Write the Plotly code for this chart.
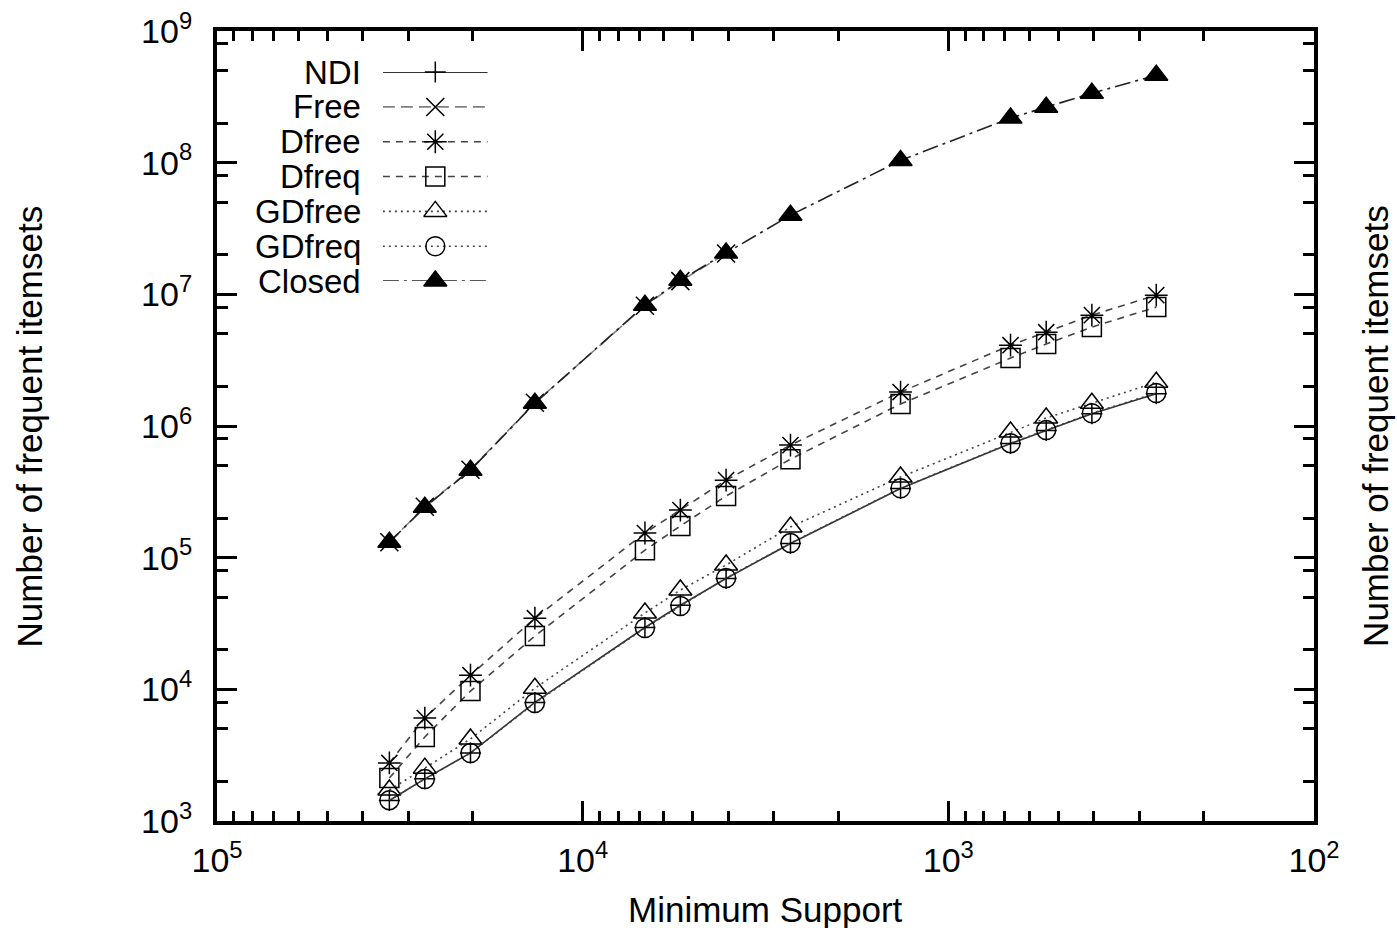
import plotly.graph_objects as go

# ---------------- data ----------------
support = [33778, 27023, 20267, 13511, 6756, 5405, 4053, 2702, 1351, 676, 540, 405, 270]

ndi = [1430, 2090, 3290, 7950, 29500, 43500, 69500, 128000, 335000, 735000, 925000, 1240000, 1760000]
free_support = [33778, 27023, 20267, 13511, 6756, 5405, 4053]
free = [131000, 244000, 466000, 1500000, 8200000, 12600000, 20400000]
dfree = [2760, 6050, 12800, 34700, 154000, 230000, 388000, 716000, 1810000, 4110000, 5160000, 6950000, 9860000]
dfreq = [2120, 4350, 9700, 25400, 114000, 174000, 294000, 560000, 1470000, 3280000, 4190000, 5640000, 8000000]
gdfree = [1720, 2520, 4200, 10200, 38000, 56800, 88000, 171000, 410000, 900000, 1150000, 1490000, 2150000]
gdfreq = [1440, 2080, 3280, 7870, 29200, 42900, 70000, 129000, 337000, 741000, 931000, 1250000, 1780000]
closed = [131000, 242000, 462000, 1490000, 8280000, 12800000, 20600000, 39900000, 104000000,
          218000000, 264000000, 337000000, 461000000]

series_names = ["NDI", "Free", "Dfree", "Dfreq", "GDfree", "GDfreq", "Closed"]

x_tick_vals = [1e5, 1e4, 1e3, 1e2]
x_tick_text = ["10<sup>5</sup>", "10<sup>4</sup>", "10<sup>3</sup>", "10<sup>2</sup>"]
y_tick_vals = [1e3, 1e4, 1e5, 1e6, 1e7, 1e8, 1e9]
y_tick_text = ["10<sup>3</sup>", "10<sup>4</sup>", "10<sup>5</sup>", "10<sup>6</sup>",
               "10<sup>7</sup>", "10<sup>8</sup>", "10<sup>9</sup>"]

# ---------------- styles ----------------
FONT = "Liberation Sans, Arial, sans-serif"
styles = {
    "NDI":    dict(color="#333333", dash="solid",            sym="cross-thin-open",    size=15),
    "Free":   dict(color="#808080", dash="12px,6px",         sym="x-thin-open",        size=18),
    "Dfree":  dict(color="#444444", dash="7px,6px",          sym="asterisk-open",      size=19),
    "Dfreq":  dict(color="#444444", dash="7px,6px",          sym="square-open",        size=19),
    "GDfree": dict(color="#444444", dash="2px,4px",          sym="triangle-up-open",   size=20),
    "GDfreq": dict(color="#444444", dash="2px,4px",          sym="circle-open",        size=19),
    "Closed": dict(color="#222222", dash="16px,5px,3px,5px", sym="triangle-up",        size=20),
}

data_map = {
    "NDI": (support, ndi),
    "Free": (free_support, free),
    "Dfree": (support, dfree),
    "Dfreq": (support, dfreq),
    "GDfree": (support, gdfree),
    "GDfreq": (support, gdfreq),
    "Closed": (support, closed),
}

fig = go.Figure()

# draw order: Free beneath Closed
draw_order = ["Free", "NDI", "Dfree", "Dfreq", "GDfree", "GDfreq", "Closed"]
for name in draw_order:
    xs, ys = data_map[name]
    st = styles[name]
    fig.add_trace(go.Scatter(
        x=xs, y=ys, mode="lines+markers", name=name, showlegend=False,
        line=dict(color=st["color"], width=1.6, dash=st["dash"]),
        marker=dict(symbol=st["sym"], size=st["size"], color="black",
                    line=dict(color="black", width=1.5)),
        cliponaxis=False,
    ))

# ---------------- custom legend (text left of sample, like the original) ----------------
for i, name in enumerate(series_names):
    st = styles[name]
    fig.add_trace(go.Scatter(
        x=[0, 1], y=[i, i], mode="lines", xaxis="x2", yaxis="y2", showlegend=False,
        line=dict(color=st["color"], width=1.6, dash=st["dash"]), cliponaxis=False,
        hoverinfo="skip",
    ))
    fig.add_trace(go.Scatter(
        x=[0.5], y=[i], mode="markers", xaxis="x2", yaxis="y2", showlegend=False,
        marker=dict(symbol=st["sym"], size=st["size"], color="black",
                    line=dict(color="black", width=1.5)), cliponaxis=False,
        hoverinfo="skip",
    ))
    fig.add_annotation(x=0, y=i, xref="x2", yref="y2", text=name, showarrow=False,
                       xanchor="right", yanchor="middle", xshift=-20,
                       font=dict(family=FONT, size=33, color="black"))

x_minor = [m * 10 ** e for e in (2, 3, 4) for m in range(2, 10)]
y_minor = [m * 10 ** e for e in range(3, 9) for m in (2, 5, 8)]

axis_common = dict(
    type="log", showline=True, linewidth=4, linecolor="black", mirror="allticks",
    ticks="inside", tickwidth=3, tickcolor="black", showgrid=False, zeroline=False,
    automargin=False,
    tickfont=dict(family=FONT, size=34, color="black"),
)

fig.update_layout(
    width=1397, height=928,
    margin=dict(l=217, r=83, t=31, b=107),
    paper_bgcolor="white", plot_bgcolor="rgba(0,0,0,0)",
    showlegend=False,
    xaxis=dict(**axis_common, range=[5, 2], tickvals=x_tick_vals, ticktext=x_tick_text,
               ticklen=20, ticklabelstandoff=6,
               minor=dict(tickvals=x_minor, ticks="inside", ticklen=10, tickwidth=3,
                          tickcolor="black", showgrid=False)),
    yaxis=dict(**axis_common, range=[3, 9], tickvals=y_tick_vals, ticktext=y_tick_text,
               ticklen=20, ticklabelstandoff=14,
               minor=dict(tickvals=y_minor, ticks="inside", ticklen=11, tickwidth=3,
                          tickcolor="black", showgrid=False)),
    xaxis2=dict(domain=[0.1512, 0.2468], range=[0, 1], anchor="y2", visible=False, fixedrange=True),
    yaxis2=dict(domain=[0.6835, 0.948], range=[6, 0], anchor="x2", visible=False, fixedrange=True),
)

fig.add_annotation(text="Minimum Support", xref="paper", yref="paper", x=0.5, y=-0.112,
                   showarrow=False, xanchor="center", yanchor="middle",
                   font=dict(family=FONT, size=35, color="black"))
fig.add_annotation(text="Number of frequent itemsets", xref="paper", yref="paper",
                   x=-0.171, y=0.5, textangle=-90, showarrow=False,
                   xanchor="center", yanchor="middle",
                   font=dict(family=FONT, size=35, color="black"))
fig.add_annotation(text="Number of frequent itemsets", xref="paper", yref="paper",
                   x=1.0555, y=0.5, textangle=-90, showarrow=False,
                   xanchor="center", yanchor="middle",
                   font=dict(family=FONT, size=35, color="black"))

fig.write_html("out.html")
